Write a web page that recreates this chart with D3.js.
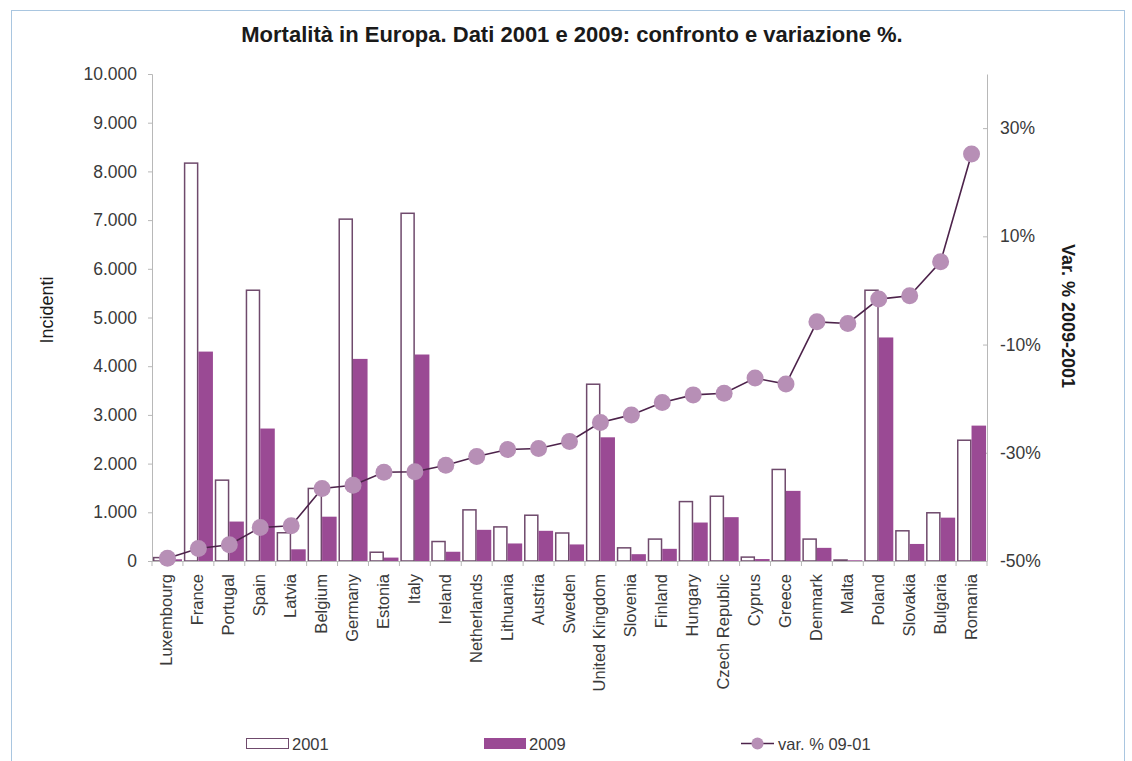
<!DOCTYPE html>
<html>
<head>
<meta charset="utf-8">
<script src="https://cdn.jsdelivr.net/npm/d3@7"></script>
<style>
  html, body { margin: 0; padding: 0; background: #fff; }
  svg { display: block; font-family: "Liberation Sans", Arial, sans-serif; }
</style>
</head>
<body>
<svg id="chart" width="1132" height="761"></svg>
<script>
// Road deaths per country, 2001 vs 2009, and percentage change
const countries = ["Luxembourg", "France", "Portugal", "Spain", "Latvia", "Belgium", "Germany",
  "Estonia", "Italy", "Ireland", "Netherlands", "Lithuania", "Austria", "Sweden",
  "United Kingdom", "Slovenia", "Finland", "Hungary", "Czech Republic", "Cyprus",
  "Greece", "Denmark", "Malta", "Poland", "Slovakia", "Bulgaria", "Romania"];

const deaths2001 = [70, 8170, 1660, 5560, 580, 1490, 7020, 180, 7140, 400, 1050, 700, 940, 575,
  3630, 270, 450, 1220, 1330, 80, 1880, 450, 20, 5560, 620, 990, 2480];

const deaths2009 = [35, 4300, 810, 2720, 240, 910, 4150, 70, 4240, 190, 640, 360, 620, 340,
  2540, 140, 250, 790, 900, 40, 1440, 270, 15, 4590, 350, 890, 2780];

const variation = [-49.5, -47.7, -47.0, -43.8, -43.5, -36.6, -36.0, -33.6, -33.5, -32.3, -30.7,
  -29.4, -29.2, -27.9, -24.4, -23.0, -20.7, -19.3, -19.0, -16.2, -17.3, -5.8, -6.1, -1.6,
  -1.0, 5.3, 25.2];

const leftTicks = [0, 1000, 2000, 3000, 4000, 5000, 6000, 7000, 8000, 9000, 10000];
const rightTicks = [-50, -30, -10, 10, 30];

const title = "Mortalità in Europa. Dati 2001 e 2009: confronto e variazione %.";
const legendLabels = ["2001", "2009", "var. % 09-01"];

const colFill = "#9a4a94";
const colOutline = "#6f4a6c";
const colLine = "#4d234b";
const colMarker = "#b78fb6";
const colAxis = "#b8b8b8";
const colText = "#3a3a3a";

const svg = d3.select("#chart");

// outer frame
svg.append("rect")
  .attr("x", 11.5).attr("y", 10.5).attr("width", 1113).attr("height", 760)
  .attr("fill", "#fff").attr("stroke", "#a9c6e0").attr("stroke-width", 1);

const plot = { left: 152, right: 987, top: 74, bottom: 561 };

const x = d3.scaleBand().domain(countries)
  .range([plot.left, plot.right]).paddingInner(0.06).paddingOuter(0.03);
const step = x.step();
const y = d3.scaleLinear().domain([0, 10000]).range([plot.bottom, plot.top]);
const y2 = d3.scaleLinear().domain([-50, 40]).range([plot.bottom, plot.top]);

// title
svg.append("text")
  .attr("x", 572).attr("y", 42)
  .attr("text-anchor", "middle")
  .attr("font-size", 22).attr("font-weight", "bold").attr("fill", "#1a1a1a")
  .text(title);

// left axis
const fmt = d => d3.format(",")(d).replace(/,/g, ".");
const leftAxis = d3.axisLeft(y).tickValues(leftTicks).tickFormat(fmt).tickSize(4).tickPadding(11);
const gL = svg.append("g").attr("transform", `translate(${plot.left},0)`).call(leftAxis);
gL.select(".domain").attr("stroke", colAxis);
gL.selectAll(".tick line").attr("stroke", colAxis);
gL.selectAll(".tick text").attr("font-size", 17.5).attr("fill", colText)
  .attr("font-family", "Liberation Sans, Arial, sans-serif");

// right axis
const rightAxis = d3.axisRight(y2).tickValues(rightTicks).tickFormat(d => d + "%").tickSize(0).tickPadding(13);
const gR = svg.append("g").attr("transform", `translate(${plot.right},0)`).call(rightAxis);
gR.select(".domain").attr("stroke", colAxis);
gR.selectAll(".tick text").attr("font-size", 17.5).attr("fill", colText)
  .attr("font-family", "Liberation Sans, Arial, sans-serif");
gR.selectAll(".tick").append("line").attr("x1", -4).attr("x2", 0).attr("stroke", colAxis);

// axis titles
svg.append("text")
  .attr("transform", "translate(53,310) rotate(-90)")
  .attr("text-anchor", "middle").attr("font-size", 18).attr("fill", "#1a1a1a")
  .text("Incidenti");
svg.append("text")
  .attr("transform", "translate(1062,316) rotate(90)")
  .attr("text-anchor", "middle").attr("font-size", 18).attr("font-weight", "bold").attr("fill", "#1a1a1a")
  .text("Var. % 2009-2001");

// bars
const half = x.bandwidth() / 2;
svg.append("g").selectAll("rect").data(countries).join("rect")
  .attr("x", (d) => x(d) + 0.75)
  .attr("y", (d, i) => y(deaths2001[i]))
  .attr("width", half - 1.5)
  .attr("height", (d, i) => plot.bottom - y(deaths2001[i]))
  .attr("fill", "#fff").attr("stroke", colOutline).attr("stroke-width", 1.5);

svg.append("g").selectAll("rect").data(countries).join("rect")
  .attr("x", d => x(d) + half)
  .attr("y", (d, i) => y(deaths2009[i]))
  .attr("width", half)
  .attr("height", (d, i) => plot.bottom - y(deaths2009[i]))
  .attr("fill", colFill);

// category axis
const xAxisG = svg.append("g");
xAxisG.append("line")
  .attr("x1", plot.left).attr("x2", plot.right)
  .attr("y1", plot.bottom + 0.5).attr("y2", plot.bottom + 0.5)
  .attr("stroke", colAxis);
xAxisG.selectAll("line.tk").data(d3.range(countries.length + 1)).join("line")
  .attr("class", "tk")
  .attr("x1", i => plot.left + i * step).attr("x2", i => plot.left + i * step)
  .attr("y1", plot.bottom).attr("y2", plot.bottom + 5)
  .attr("stroke", colAxis);
xAxisG.selectAll("text").data(countries).join("text")
  .attr("transform", d => `translate(${x(d) + x.bandwidth() / 2 + 5},${plot.bottom + 13}) rotate(-90)`)
  .attr("text-anchor", "end")
  .attr("font-size", 16.5).attr("fill", colText)
  .text(d => d);

// variation line + markers
const cx = d => x(d) + x.bandwidth() / 2;
const line = d3.line().x((d, i) => cx(countries[i])).y(d => y2(d));
svg.append("path").datum(variation)
  .attr("d", line).attr("fill", "none").attr("stroke", colLine).attr("stroke-width", 1.6);
svg.append("g").selectAll("circle").data(variation).join("circle")
  .attr("cx", (d, i) => cx(countries[i]))
  .attr("cy", d => y2(d))
  .attr("r", 8.5)
  .attr("fill", colMarker);

// legend
const lg = svg.append("g").attr("font-size", 16.5).attr("fill", colText);
lg.append("rect").attr("x", 246.5).attr("y", 738.5).attr("width", 42).attr("height", 10)
  .attr("fill", "#fff").attr("stroke", colOutline).attr("stroke-width", 1);
lg.append("text").attr("x", 292).attr("y", 749.5).text(legendLabels[0]);
lg.append("rect").attr("x", 484).attr("y", 738).attr("width", 42).attr("height", 11)
  .attr("fill", colFill);
lg.append("text").attr("x", 529).attr("y", 749.5).text(legendLabels[1]);
lg.append("line").attr("x1", 741).attr("x2", 774).attr("y1", 743.5).attr("y2", 743.5)
  .attr("stroke", colLine).attr("stroke-width", 1.6);
lg.append("circle").attr("cx", 757.5).attr("cy", 743.5).attr("r", 6).attr("fill", colMarker);
lg.append("text").attr("x", 778).attr("y", 749.5).text(legendLabels[2]);
</script>
</body>
</html>
